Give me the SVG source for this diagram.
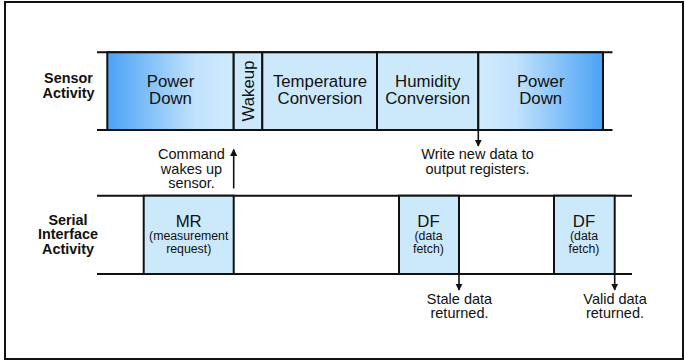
<svg xmlns="http://www.w3.org/2000/svg" width="685" height="360" viewBox="0 0 685 360">
  <style>
    .ln { stroke: #111; stroke-width: 2; fill: none; }
    .box { stroke: #111; stroke-width: 2; }
    .lt { fill: #cce9fc; }
    .t { font-family: "Liberation Sans", Arial, sans-serif; fill: #111; text-anchor: middle; }
    .lbl { font-size: 14.4px; font-weight: bold; }
    .big { font-size: 16.8px; }
    .sm { font-size: 12.3px; }
    .note { font-size: 14.5px; }
    .arr { stroke: #111; stroke-width: 1.6; fill: none; marker-end: url(#ah); }
  </style>
  <defs>
    <linearGradient id="gL" x1="0" y1="0" x2="1" y2="0">
      <stop offset="0" stop-color="#4aa2f5"/>
      <stop offset="0.7" stop-color="#c2e2fd"/>
      <stop offset="1" stop-color="#d0ebfe"/>
    </linearGradient>
    <linearGradient id="gR" x1="0" y1="0" x2="1" y2="0">
      <stop offset="0" stop-color="#d0ebfe"/>
      <stop offset="0.3" stop-color="#c2e2fd"/>
      <stop offset="1" stop-color="#4aa2f5"/>
    </linearGradient>
    <marker id="ah" viewBox="0 0 10 10" refX="9" refY="5" markerWidth="4.5" markerHeight="5" orient="auto" markerUnits="strokeWidth">
      <path d="M0,0 L10,5 L0,10 Z" fill="#111"/>
    </marker>
  </defs>

  <rect x="5" y="2" width="678" height="357" fill="#fff" stroke="#111" stroke-width="2"/>

  <g id="sensor-label">
    <text class="t lbl" x="68.5" y="83">Sensor</text>
    <text class="t lbl" x="68.5" y="97.8">Activity</text>
  </g>
  <g id="serial-label">
    <text class="t lbl" x="68" y="224.5">Serial</text>
    <text class="t lbl" x="68" y="239.2">Interface</text>
    <text class="t lbl" x="68" y="253.9">Activity</text>
  </g>

  <g id="sensor-band">
    <line class="ln" x1="97" y1="52.3" x2="612.5" y2="52.3"/>
    <line class="ln" x1="97" y1="130" x2="612.5" y2="130"/>
  </g>
  <g id="power-down-1">
    <rect class="box" x="107.3" y="52.3" width="126.4" height="77.7" fill="url(#gL)"/>
    <text class="t big" x="170.5" y="86.7">Power</text>
    <text class="t big" x="170.5" y="104">Down</text>
  </g>
  <g id="wakeup">
    <rect class="box lt" x="233.7" y="52.3" width="28.6" height="77.7"/>
    <text class="t big" transform="translate(253.5 91) rotate(-90)" x="0" y="0">Wakeup</text>
  </g>
  <g id="temperature-conversion">
    <rect class="box lt" x="262.3" y="52.3" width="114.7" height="77.7"/>
    <text class="t big" x="320" y="86.7">Temperature</text>
    <text class="t big" x="320" y="104">Conversion</text>
  </g>
  <g id="humidity-conversion">
    <rect class="box lt" x="377" y="52.3" width="101.3" height="77.7"/>
    <text class="t big" x="427.7" y="86.7">Humidity</text>
    <text class="t big" x="427.7" y="104">Conversion</text>
  </g>
  <g id="power-down-2">
    <rect class="box" x="478.3" y="52.3" width="124.7" height="77.7" fill="url(#gR)"/>
    <text class="t big" x="540.7" y="86.7">Power</text>
    <text class="t big" x="540.7" y="104">Down</text>
  </g>

  <g id="serial-band">
    <line class="ln" x1="97" y1="195.7" x2="632" y2="195.7"/>
    <line class="ln" x1="97" y1="274" x2="632" y2="274"/>
  </g>
  <g id="mr">
    <rect class="box lt" x="143.7" y="195.7" width="90" height="78.3"/>
    <text class="t big" x="188.7" y="226.5">MR</text>
    <text class="t sm" x="188.7" y="240">(measurement</text>
    <text class="t sm" x="188.7" y="253">request)</text>
  </g>
  <g id="df-1">
    <rect class="box lt" x="399" y="195.7" width="60" height="78.3"/>
    <text class="t big" x="428.5" y="226.5">DF</text>
    <text class="t sm" x="428.5" y="240">(data</text>
    <text class="t sm" x="428.5" y="253">fetch)</text>
  </g>
  <g id="df-2">
    <rect class="box lt" x="554" y="195.7" width="60.7" height="78.3"/>
    <text class="t big" x="584" y="226.5">DF</text>
    <text class="t sm" x="584" y="240">(data</text>
    <text class="t sm" x="584" y="253">fetch)</text>
  </g>

  <g id="note-command">
    <text class="t note" x="191.5" y="159">Command</text>
    <text class="t note" x="191.5" y="173.5">wakes up</text>
    <text class="t note" x="191.5" y="188">sensor.</text>
  </g>
  <g id="note-write">
    <text class="t note" x="477.5" y="159">Write new data to</text>
    <text class="t note" x="477.5" y="173.5">output registers.</text>
  </g>
  <g id="note-stale">
    <text class="t note" x="459.5" y="303.5">Stale data</text>
    <text class="t note" x="459.5" y="318">returned.</text>
  </g>
  <g id="note-valid">
    <text class="t note" x="615" y="303.5">Valid data</text>
    <text class="t note" x="615" y="318">returned.</text>
  </g>

  <g id="connectors">
    <line class="arr" x1="233.7" y1="188.5" x2="233.7" y2="149.5"/>
    <line class="arr" x1="478.3" y1="130" x2="478.3" y2="146"/>
    <line class="arr" x1="459" y1="274" x2="459" y2="290"/>
    <line class="arr" x1="614.7" y1="274" x2="614.7" y2="290"/>
  </g>
</svg>
